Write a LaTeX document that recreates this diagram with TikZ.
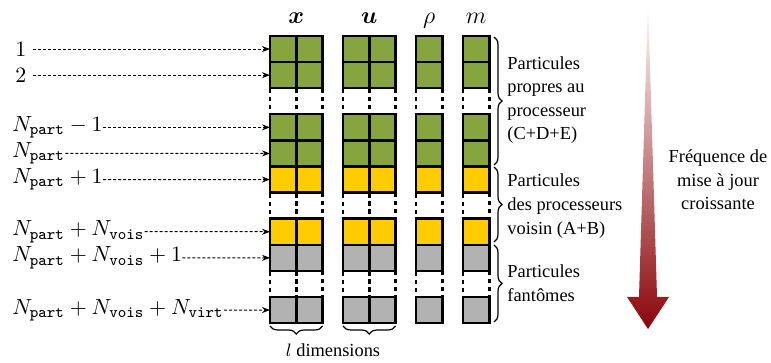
\documentclass[tikz,border=0pt]{standalone}
\usepackage{amsmath,amssymb}
\usepackage{bm}
\usepackage{fontspec}
\newfontfamily\tmsfont{Liberation Serif}[Ligatures=TeX]
\usetikzlibrary{arrows.meta,decorations.pathreplacing}
\definecolor{cgreen}{RGB}{134,165,62}
\definecolor{cyellow}{RGB}{255,204,0}
\definecolor{cgray}{RGB}{178,178,178}
\definecolor{cred}{RGB}{139,6,10}
\begin{document}
\begin{tikzpicture}[x=0.5pt,y=-0.5pt,
  cell/.style={draw=black, very thick, minimum width=13.15pt, minimum height=13.05pt, inner sep=0pt, outer sep=0pt},
  k-g/.style={fill=cgreen},
  k-y/.style={fill=cyellow},
  k-s/.style={fill=cgray},
  k-d/.style={dash pattern=on 2pt off 2pt, fill=none},
  lbl/.style={anchor=west, inner sep=0pt, font=\fontsize{10.95}{13.6}\selectfont},
  ptr/.style={line width=0.5pt, dash pattern=on 1.5pt off 1pt, -{Stealth[length=4pt,width=3pt]}},
  brc/.style={decorate, decoration={brace, amplitude=4pt}, line width=0.6pt},
  tfont/.style={font={\tmsfont\fontsize{9.2}{11.8}\selectfont}},
  rtext/.style={tfont, anchor=west, align=left, inner sep=0pt},
  head/.style={anchor=base, inner sep=0pt, font=\large}]
\useasboundingbox (0,0) rectangle (771,363);
% big gradient arrow
\shade[top color=white, bottom color=cred] (648,0) -- (657,297) -- (669,297) -- (648,329) -- (627,297) -- (639,297) -- cycle;
% gap cells first
\foreach \c/\cx in {1/283.15,2/309.45,3/356.15,4/382.45,5/429.15,6/476.15}{
  \foreach \r in {3,7,10}{
    \node[cell,k-d] (c\r-\c) at (\cx,{49.05+(\r-1)*26.1}) {};
  }
}
\foreach \c/\cx in {1/283.15,2/309.45,3/356.15,4/382.45,5/429.15,6/476.15}{
  \foreach \r/\k in {1/g,2/g,4/g,5/g,6/y,8/y,9/s,11/s}{
    \node[cell,k-\k] (c\r-\c) at (\cx,{49.05+(\r-1)*26.1}) {};
  }
}
% headers
\node[head] (hx) at (296.3,23.5) {$\boldsymbol{x}$};
\node[head] (hu) at (369.3,23.5) {$\boldsymbol{u}$};
\node[head] (hr) at (429.15,23.5) {$\rho$};
\node[head] (hm) at (476.15,23.5) {$m$};
% left labels
\node[lbl, inner xsep=3pt] (l1) at (9,49.05) {$1$};
\node[lbl, inner xsep=3pt] (l2) at (9,75.15) {$2$};
\node[lbl] (l4) at (12,127.35) {$N_{\mathtt{part}}-1$};
\node[lbl] (l5) at (12,153.45) {$N_{\mathtt{part}}$};
\node[lbl] (l6) at (12,179.55) {$N_{\mathtt{part}}+1$};
\node[lbl] (l8) at (12,231.75) {$N_{\mathtt{part}}+N_{\mathtt{vois}}$};
\node[lbl] (l9) at (12,257.85) {$N_{\mathtt{part}}+N_{\mathtt{vois}}+1$};
\node[lbl] (l11) at (12,310.05) {$N_{\mathtt{part}}+N_{\mathtt{vois}}+N_{\mathtt{virt}}$};
\foreach \r in {1,2,4,5,6,8,9,11}{
  \draw[ptr] (l\r) -- (c\r-1);
}
% right braces
\draw[brc] (494,37) -- (494,165);
\draw[brc] (494,167) -- (494,242);
\draw[brc] (494,245) -- (494,322);
\node[rtext] (t1) at (507,100) {Particules\\propres au\\processeur\\(C+D+E)};
\node[rtext] (t2) at (507,206) {Particules\\des processeurs\\voisin (A+B)};
\node[rtext] (t3) at (507,283.5) {Particules\\fantômes};
% bottom braces
\draw[brc] (322.6,326) -- (270,326);
\draw[brc] (395.6,326) -- (343,326);
\node[tfont, inner sep=0pt] (dim) at (333,350) {$l$ dimensions};
% frequency text
\node[tfont, inner sep=0pt, align=center] (freq) at (718,180) {Fréquence de\\mise à jour\\croissante};
\end{tikzpicture}
\end{document}
